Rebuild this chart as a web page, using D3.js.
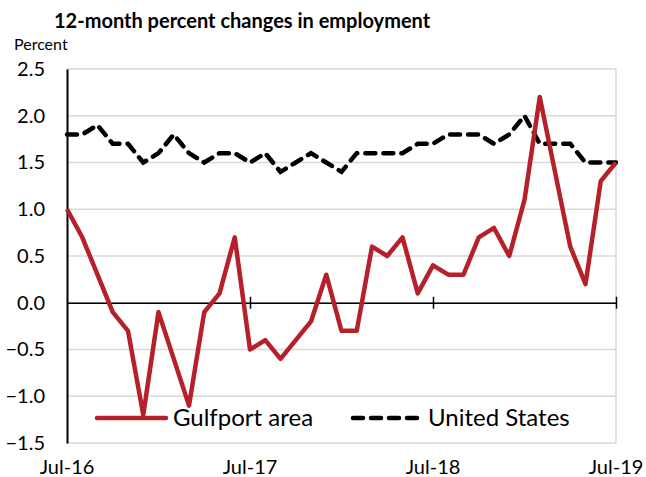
<!DOCTYPE html>
<html>
<head>
<meta charset="utf-8">
<script src="https://cdn.jsdelivr.net/npm/d3@7"></script>
<style>
  body { margin: 0; background: #fff; }
  svg text { font-family: Lato, "Open Sans", sans-serif; fill: #000; }
</style>
</head>
<body>
<svg id="chart" width="646" height="477"></svg>
<script>
// monthly, Jul-16 .. Jul-19
var months = d3.range(37);
var tickLabels = ['Jul-16', 'Jul-17', 'Jul-18', 'Jul-19'];
var yTicks = [-1.5, -1.0, -0.5, 0.0, 0.5, 1.0, 1.5, 2.0, 2.5];

var gulfport = [1.0, 0.7, 0.3, -0.1, -0.3, -1.2, -0.1, -0.6, -1.1, -0.1, 0.1, 0.7,
    -0.5, -0.4, -0.6, -0.4, -0.2, 0.3, -0.3, -0.3, 0.6, 0.5, 0.7, 0.1,
    0.4, 0.3, 0.3, 0.7, 0.8, 0.5, 1.1, 2.2, 1.4, 0.6, 0.2, 1.3, 1.5];
var unitedStates = [1.8, 1.8, 1.9, 1.7, 1.7, 1.5, 1.6, 1.8, 1.6, 1.5, 1.6, 1.6,
    1.5, 1.6, 1.4, 1.5, 1.6, 1.5, 1.4, 1.6, 1.6, 1.6, 1.6, 1.7,
    1.7, 1.8, 1.8, 1.8, 1.7, 1.8, 2.0, 1.7, 1.7, 1.7, 1.5, 1.5, 1.5];

var svg = d3.select('#chart');
var mLeft = 67, mRight = 616, mTop = 69, mBottom = 443;

var x = d3.scaleLinear().domain([0, 36]).range([mLeft, mRight]);
var y = d3.scaleLinear().domain([-1.5, 2.5]).range([mBottom, mTop]);

svg.append('text')
    .attr('x', 54).attr('y', 28)
    .attr('font-size', 20).attr('font-weight', 'bold')
    .text('12-month percent changes in employment');
svg.append('text')
    .attr('x', 14).attr('y', 50)
    .attr('font-size', 16)
    .text('Percent');

// gridlines
svg.append('g').selectAll('line').data(yTicks).enter().append('line')
    .attr('x1', mLeft).attr('x2', mRight)
    .attr('y1', d => y(d)).attr('y2', d => y(d))
    .attr('stroke', '#d9d9d9').attr('stroke-width', 1.5);
svg.append('line')
    .attr('x1', mRight).attr('x2', mRight).attr('y1', mTop).attr('y2', mBottom)
    .attr('stroke', '#d9d9d9').attr('stroke-width', 1.5);

// y axis
var yAxis = d3.axisLeft(y).tickValues(yTicks).tickFormat(d3.format('.1f')).tickSize(0).tickPadding(22);
var gy = svg.append('g').attr('transform', 'translate(' + mLeft + ',0)').call(yAxis);
gy.select('.domain').attr('stroke', '#000').attr('stroke-width', 2);
gy.selectAll('text').attr('font-size', 20).attr('font-family', 'Lato, "Open Sans", sans-serif');

// zero line with year ticks
var gx = svg.append('g').attr('transform', 'translate(0,' + y(0) + ')')
    .call(d3.axisBottom(x).tickValues([12, 24, 36]).tickFormat('').tickSizeInner(6).tickSizeOuter(0));
gx.selectAll('.tick line').attr('y1', -6).attr('stroke', '#000').attr('stroke-width', 1.5);
gx.select('.domain').attr('stroke', '#000').attr('stroke-width', 1.5);

// x labels at bottom
svg.append('g').selectAll('text').data(tickLabels).enter().append('text')
    .attr('x', (d, i) => x(i * 12)).attr('y', 474)
    .attr('text-anchor', 'middle').attr('font-size', 20)
    .text(d => d);

var line = d3.line().x((d, i) => x(i)).y(d => y(d));

svg.append('path').datum(unitedStates)
    .attr('d', line).attr('fill', 'none')
    .attr('stroke', '#000').attr('stroke-width', 4.5)
    .attr('stroke-dasharray', '10,8').attr('stroke-linecap', 'round');

svg.append('path').datum(gulfport)
    .attr('d', line).attr('fill', 'none')
    .attr('stroke', '#b5202a').attr('stroke-width', 4.5)
    .attr('stroke-linejoin', 'round');

// legend
var lg = svg.append('g');
lg.append('line').attr('x1', 97).attr('x2', 166).attr('y1', 418).attr('y2', 418)
    .attr('stroke', '#b5202a').attr('stroke-width', 4.5).attr('stroke-linecap', 'round');
lg.append('text').attr('x', 173).attr('y', 426).attr('font-size', 24).text('Gulfport area');
lg.append('line').attr('x1', 353).attr('x2', 418).attr('y1', 418).attr('y2', 418)
    .attr('stroke', '#000').attr('stroke-width', 4.5)
    .attr('stroke-dasharray', '10,8').attr('stroke-linecap', 'round');
lg.append('text').attr('x', 428).attr('y', 426).attr('font-size', 24).text('United States');
</script>
</body>
</html>
